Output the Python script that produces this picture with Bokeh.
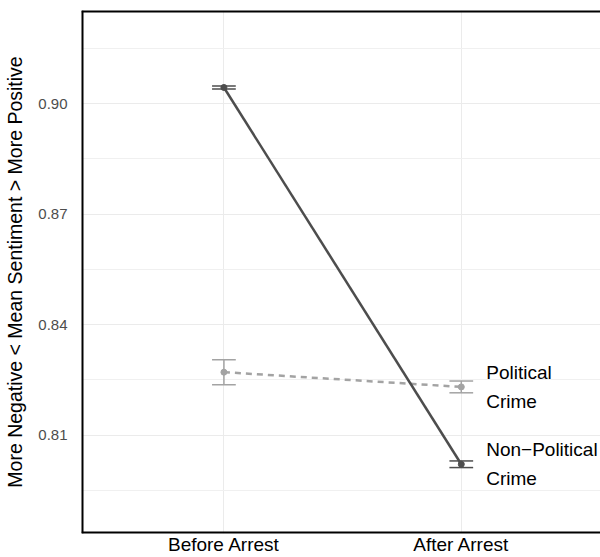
from bokeh.plotting import figure
from bokeh.models import Range1d, FixedTicker, PrintfTickFormatter, Span, ColumnDataSource
from bokeh.core.properties import value
from bokeh.embed import file_html
from bokeh.resources import INLINE

# ---- data ----
categories = ["Before Arrest", "After Arrest"]
cat_pos = [1, 2]
nonpol_mean = [0.9044, 0.8021]
nonpol_err = [0.0004, 0.0009]
pol_mean = [0.8271, 0.8231]
pol_err = [0.0034, 0.0016]
labels = ["Political\nCrime", "Non\u2212Political\nCrime"]
y_ticks = [0.81, 0.84, 0.87, 0.90]
y_minor = [0.795, 0.825, 0.855, 0.885, 0.915]

FONT = "Liberation Sans"
DARK = "#4d4d4d"
LIGHT = "#a3a3a3"

y0, y1 = 0.7833, 0.9253
x0, x1 = 0.4, 2.5865

p = figure(width=600, height=557, output_backend="svg", toolbar_location=None,
           title_location=None,
           x_range=Range1d(x0, x1), y_range=Range1d(y0, y1),
           min_border_left=81, min_border_top=10, min_border_right=0, min_border_bottom=24)
p.outline_line_color = None
p.background_fill_color = "white"
p.border_fill_color = "white"

# grids
p.xgrid.ticker = FixedTicker(ticks=cat_pos)
p.ygrid.ticker = FixedTicker(ticks=y_ticks, minor_ticks=y_minor)
for g in (p.xgrid, p.ygrid):
    g.grid_line_color = "#ebebeb"
    g.grid_line_width = 1
p.ygrid.minor_grid_line_color = "#f0f0f0"
p.ygrid.minor_grid_line_width = 1

# axes
p.xaxis.ticker = FixedTicker(ticks=cat_pos)
p.xaxis.major_label_overrides = {c: l for c, l in zip(cat_pos, categories)}
p.yaxis.ticker = FixedTicker(ticks=y_ticks)
p.yaxis.formatter = PrintfTickFormatter(format="%.2f")
for ax in (p.xaxis[0], p.yaxis[0]):
    ax.axis_line_color = None
    ax.major_tick_line_color = None
    ax.minor_tick_line_color = None
    ax.major_tick_out = 0
    ax.major_tick_in = 0
    ax.minor_tick_out = 0
    ax.minor_tick_in = 0
    ax.major_label_text_font = FONT
p.xaxis.major_label_text_font_size = "19px"
p.xaxis.major_label_text_color = "black"
p.xaxis.major_label_standoff = 0
p.yaxis.major_label_text_font_size = "15px"
p.yaxis.major_label_text_color = DARK
p.yaxis.major_label_standoff = 14
p.yaxis.axis_label = "More Negative < Mean Sentiment > More Positive"
p.yaxis.axis_label_text_font = FONT
p.yaxis.axis_label_text_font_size = "19.5px"
p.yaxis.axis_label_text_font_style = "normal"
p.yaxis.axis_label_text_color = "black"
p.yaxis.axis_label_standoff = 9

# border (left, top, bottom)
p.add_layout(Span(location=x0, dimension="height", line_color="black", line_width=4))
p.add_layout(Span(location=y1, dimension="width", line_color="black", line_width=4))
p.add_layout(Span(location=y0, dimension="width", line_color="black", line_width=4))

cap = 0.05

def draw(means, errs, color, dash, lw):
    lo = [m - e for m, e in zip(means, errs)]
    hi = [m + e for m, e in zip(means, errs)]
    src = ColumnDataSource(dict(x=cat_pos, m=means, lo=lo, hi=hi,
                                xl=[c - cap for c in cat_pos], xr=[c + cap for c in cat_pos]))
    p.segment(x0="x", y0="lo", x1="x", y1="hi", source=src, line_color=color, line_width=1.5)
    p.segment(x0="xl", y0="lo", x1="xr", y1="lo", source=src, line_color=color, line_width=1.5)
    p.segment(x0="xl", y0="hi", x1="xr", y1="hi", source=src, line_color=color, line_width=1.5)
    p.line(x="x", y="m", source=src, line_color=color, line_width=lw, line_dash=dash)
    p.scatter(x="x", y="m", source=src, size=6, fill_color=color, line_color=color)

draw(pol_mean, pol_err, LIGHT, "6 5", 2.5)
draw(nonpol_mean, nonpol_err, DARK, "solid", 2.5)

p.text(x=[2.105, 2.105], y=[pol_mean[1], nonpol_mean[1]], text=labels,
       text_font=value(FONT), text_font_size="19px", text_color="black",
       text_baseline="middle", text_align="left", text_line_height=1.4)

open("out.html", "w").write(file_html(p, INLINE))
